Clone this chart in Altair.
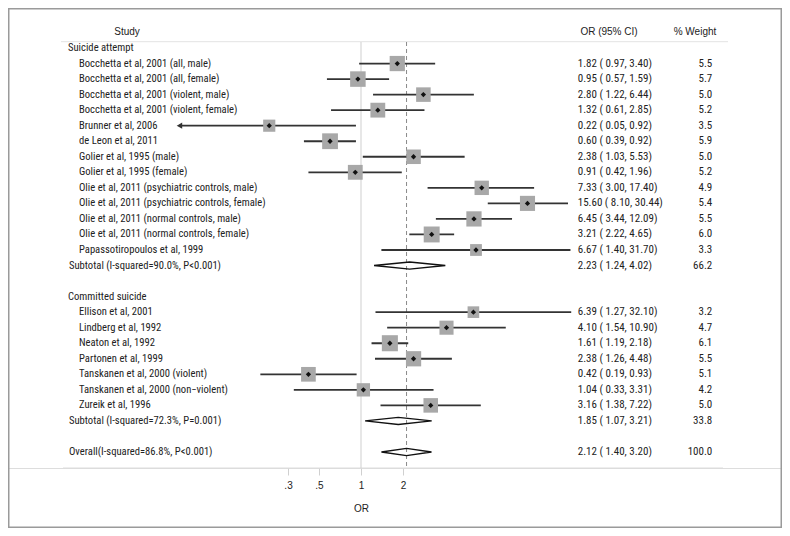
import altair as alt
import pandas as pd

# ---------------- data ----------------
group_labels = ["Suicide attempt", "Committed suicide"]

studies_attempt = [
    "Bocchetta et al, 2001 (all, male)",
    "Bocchetta et al, 2001 (all, female)",
    "Bocchetta et al, 2001 (violent, male)",
    "Bocchetta et al, 2001 (violent, female)",
    "Brunner et al, 2006",
    "de Leon et al, 2011",
    "Golier et al, 1995 (male)",
    "Golier et al, 1995 (female)",
    "Olie et al, 2011 (psychiatric controls, male)",
    "Olie et al, 2011 (psychiatric controls, female)",
    "Olie et al, 2011 (normal controls, male)",
    "Olie et al, 2011 (normal controls, female)",
    "Papassotiropoulos et al, 1999",
]
est_attempt = [1.82, 0.95, 2.80, 1.32, 0.22, 0.60, 2.38, 0.91, 7.33, 15.60, 6.45, 3.21, 6.67]
lo_attempt = [0.97, 0.57, 1.22, 0.61, 0.05, 0.39, 1.03, 0.42, 3.00, 8.10, 3.44, 2.22, 1.40]
hi_attempt = [3.40, 1.59, 6.44, 2.85, 0.92, 0.92, 5.53, 1.96, 17.40, 30.44, 12.09, 4.65, 31.70]
w_attempt = [5.5, 5.7, 5.0, 5.2, 3.5, 5.9, 5.0, 5.2, 4.9, 5.4, 5.5, 6.0, 3.3]

studies_committed = [
    "Ellison et al, 2001",
    "Lindberg et al, 1992",
    "Neaton et al, 1992",
    "Partonen et al, 1999",
    "Tanskanen et al, 2000 (violent)",
    "Tanskanen et al, 2000 (non\u2212violent)",
    "Zureik et al, 1996",
]
est_committed = [6.39, 4.10, 1.61, 2.38, 0.42, 1.04, 3.16]
lo_committed = [1.27, 1.54, 1.19, 1.26, 0.19, 0.33, 1.38]
hi_committed = [32.10, 10.90, 2.18, 4.48, 0.93, 3.31, 7.22]
w_committed = [3.2, 4.7, 6.1, 5.5, 5.1, 4.2, 5.0]

pooled_labels = [
    "Subtotal (I-squared=90.0%, P<0.001)",
    "Subtotal (I-squared=72.3%, P=0.001)",
    "Overall(I-squared=86.8%, P<0.001)",
]
pooled_est = [2.23, 1.85, 2.12]
pooled_lo = [1.24, 1.07, 1.40]
pooled_hi = [4.02, 3.21, 3.20]
pooled_w = [66.2, 33.8, 100.0]

tick_values = [0.3, 0.5, 1, 2]
tick_labels = [".3", ".5", "1", "2"]
null_value = [1]
x_min = 0.05

header_study = "Study"
header_or = "OR (95% CI)"
header_w = "% Weight"
axis_title = "OR"

# ---------------- table ----------------
def ci_text(e, l, h):
    return f"{e:.2f} ({l:5.2f}, {h:.2f})"

studies, groups, pooled = [], [], []
row = 0
groups.append({"row": row, "label": group_labels[0]})
row += 1
for s, e, l, h, w in zip(studies_attempt, est_attempt, lo_attempt, hi_attempt, w_attempt):
    studies.append({"row": row, "label": s, "est": e, "lo": l, "hi": h, "w": w,
                    "ci": ci_text(e, l, h), "wt": f"{w:.1f}"})
    row += 1
pooled.append({"row": row, "idx": 0})
row += 2
groups.append({"row": row, "label": group_labels[1]})
row += 1
for s, e, l, h, w in zip(studies_committed, est_committed, lo_committed, hi_committed, w_committed):
    studies.append({"row": row, "label": s, "est": e, "lo": l, "hi": h, "w": w,
                    "ci": ci_text(e, l, h), "wt": f"{w:.1f}"})
    row += 1
pooled.append({"row": row, "idx": 1})
row += 2
pooled.append({"row": row, "idx": 2})

for p in pooled:
    i = p["idx"]
    p.update({"label": pooled_labels[i], "est": pooled_est[i], "lo": pooled_lo[i],
              "hi": pooled_hi[i], "w": pooled_w[i],
              "ci": ci_text(pooled_est[i], pooled_lo[i], pooled_hi[i]),
              "wt": f"{pooled_w[i]:.1f}"})

df_s = pd.DataFrame(studies)
df_g = pd.DataFrame(groups)
df_p = pd.DataFrame(pooled)

H = 0.23  # diamond half height in row units
dia = []
for p in pooled:
    pts = [(p["lo"], p["row"]), (p["est"], p["row"] - H), (p["hi"], p["row"]),
           (p["est"], p["row"] + H), (p["lo"], p["row"])]
    for k, (xv, yv) in enumerate(pts):
        dia.append({"id": p["idx"], "o": k, "x": xv, "y": yv})
df_d = pd.DataFrame(dia)

df_arrow = df_s[df_s["lo"] <= x_min].assign(x=x_min)

# ---------------- scales ----------------
NARROW = "Liberation Sans Narrow, Arial Narrow, Roboto Condensed, sans-serif"
SANS = "Liberation Sans, Arial, Helvetica, sans-serif"
TXT = "#222222"

xscale = alt.Scale(type="log", domain=[0.1, 10], range=[213.46, 492.54])
yscale = alt.Scale(domain=[0, 26], range=[40, 444.0])

label_map = "{" + ",".join(f"'{v}':'{t}'" for v, t in zip(tick_values, tick_labels)) + "}"
xaxis = alt.Axis(values=tick_values, labelExpr=f"{label_map}[datum.value] || datum.label",
                 domain=False, grid=False, ticks=True, tickColor="#d0d0d0", tickSize=7,
                 tickWidth=1, labelFont=SANS, labelFontSize=10, labelColor=TXT,
                 labelPadding=5, title=axis_title, titleFont=SANS, titleFontSize=10,
                 titleFontWeight="normal", titleColor=TXT, titleX=353, titleY=40,
                 titleBaseline="middle", titleAlign="center", titleAnchor="start")

def X(field):
    return alt.X(field, type="quantitative", scale=xscale, axis=xaxis)

def Y(field):
    return alt.Y(field, type="quantitative", scale=yscale, axis=None)

# frame
frame = alt.Chart(pd.DataFrame({"a": [0]})).mark_rect(
    fill="transparent", stroke="#9a9a9a", strokeWidth=1.5
).encode(x=alt.value(0.75), x2=alt.value(773.25), y=alt.value(0.75), y2=alt.value(519.25))

# header & axis lines
hline = alt.Chart(pd.DataFrame({"a": [0]})).mark_rule(color="#e3e3e3", strokeWidth=1).encode(
    x=alt.value(53), x2=alt.value(720), y=alt.value(33.7))
axline = alt.Chart(pd.DataFrame({"a": [0]})).mark_rule(color="#dcdcdc", strokeWidth=1).encode(
    x=alt.value(55), x2=alt.value(715), y=alt.value(460))

nullline = alt.Chart(pd.DataFrame({"v": null_value})).mark_rule(color="#cfcfcf", strokeWidth=1).encode(
    x=X("v"), y=alt.value(34), y2=alt.value(460))
ovline = alt.Chart(pd.DataFrame({"v": [pooled_est[2]]})).mark_rule(
    color="#8a8a8a", strokeWidth=1, strokeDash=[4, 3]).encode(
    x=X("v"), y=alt.value(34), y2=alt.value(460))

boxes = alt.Chart(df_s).mark_point(shape="square", filled=True, color="#a8a8a8", opacity=1).encode(
    x=X("est"), y=Y("row"),
    size=alt.Size("w:Q", scale=alt.Scale(type="linear", domain=[0, 10], range=[0, 422.5]), legend=None))

ci = alt.Chart(df_s).mark_rule(color="#333333", strokeWidth=1.8).encode(
    x=X("lo"), x2="hi", y=Y("row"))

arrows = alt.Chart(df_arrow).mark_point(shape="triangle-left", filled=True, color="#333333",
                                        size=40, opacity=1).encode(x=X("x"), y=Y("row"))

dots = alt.Chart(df_s).mark_point(shape="diamond", filled=True, color="#111111", size=28,
                                  opacity=1).encode(x=X("est"), y=Y("row"))

diamonds = alt.Chart(df_d).mark_line(color="#111111", strokeWidth=1.4).encode(
    x=X("x"), y=Y("y"), detail="id:N", order="o:Q")

# text columns
LBL = 10.6
t_groups = alt.Chart(df_g).mark_text(align="left", baseline="middle", font=NARROW,
                                     fontSize=LBL, color=TXT).encode(
    x=alt.value(60), y=Y("row"), text="label:N")
t_studies = alt.Chart(df_s).mark_text(align="left", baseline="middle", font=NARROW,
                                      fontSize=LBL, color=TXT).encode(
    x=alt.value(71), y=Y("row"), text="label:N")
t_pooled = alt.Chart(df_p).mark_text(align="left", baseline="middle", font=NARROW,
                                     fontSize=LBL, color=TXT).encode(
    x=alt.value(61), y=Y("row"), text="label:N")
t_ci = alt.Chart(pd.concat([df_s, df_p])).mark_text(align="left", baseline="middle", font=NARROW,
                                                    fontSize=11, color=TXT).encode(
    x=alt.value(569.7), y=Y("row"), text="ci:N")
t_w = alt.Chart(pd.concat([df_s, df_p])).mark_text(align="right", baseline="middle", font=NARROW,
                                                   fontSize=11, color=TXT).encode(
    x=alt.value(704.3), y=Y("row"), text="wt:N")

heads = pd.DataFrame({"t": [header_study, header_or, header_w], "x": [119, 601, 687]})
t_heads = alt.Chart(heads).mark_text(align="center", baseline="middle", font=SANS,
                                     fontSize=10, color=TXT).encode(
    x=alt.X("x:Q", scale=None), y=alt.value(24), text="t:N")

chart = alt.layer(
    frame, hline, axline, nullline, ovline, ci, arrows, boxes, dots, diamonds,
    t_groups, t_studies, t_pooled, t_ci, t_w, t_heads
).properties(
    width=774, height=460,
    autosize=alt.AutoSizeParams(type="none"),
    padding={"left": 0, "top": 0, "right": 0, "bottom": 60},
).configure_view(stroke=None).configure(background="white")

chart.save("out.html", embed_options={"renderer": "svg", "actions": False})
